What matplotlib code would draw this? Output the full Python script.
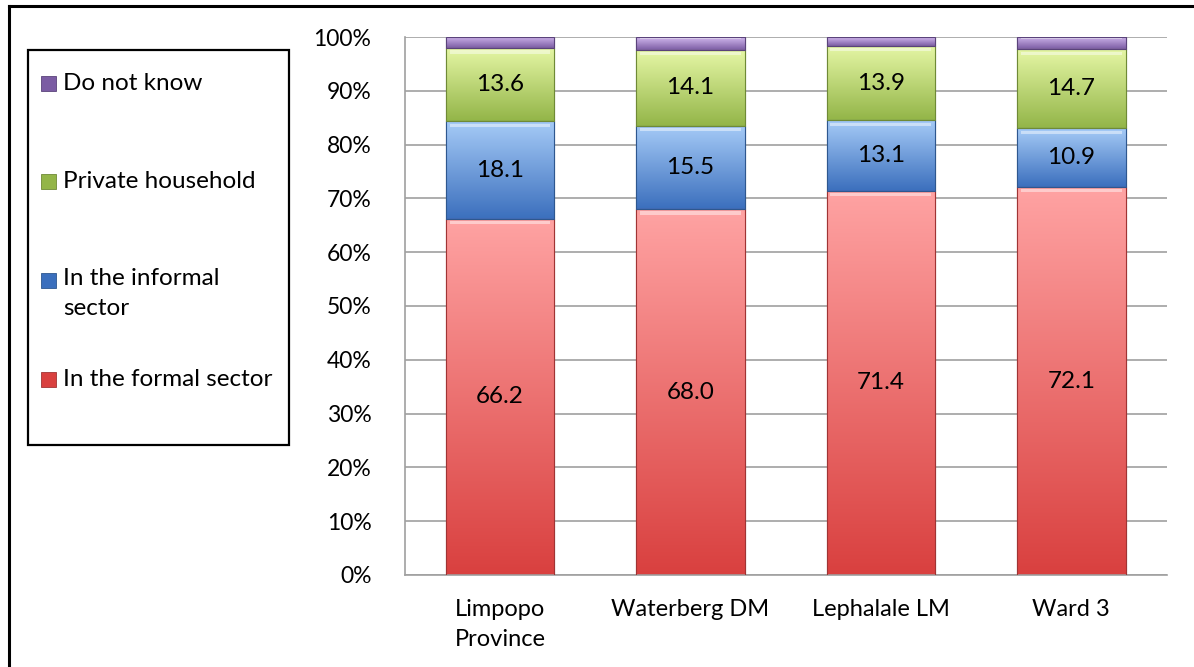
import numpy as np
import matplotlib.pyplot as plt
from matplotlib.colors import LinearSegmentedColormap
from matplotlib.patches import Rectangle

plt.rcParams['font.family'] = ['Lato', 'DejaVu Sans']

areas = ["Limpopo\nProvince", "Waterberg DM", "Lephalale LM", "Ward 3"]
formal = [66.2, 68.0, 71.4, 72.1]
informal = [18.1, 15.5, 13.1, 10.9]
private = [13.6, 14.1, 13.9, 14.7]
dont_know = [2.1, 2.4, 1.6, 2.3]
series_names = ["In the formal sector", "In the informal\nsector",
                "Private household", "Do not know"]

# light top, dark bottom, outline
shades = [
    ("#ffa3a3", "#d9403f", "#a03434"),
    ("#a6cbf7", "#3b6fbd", "#2e578f"),
    ("#e6f7a6", "#93b548", "#6f8a36"),
    ("#d2b8ee", "#7b5ca3", "#5a437a"),
]

fig = plt.figure(figsize=(11.94, 6.67), dpi=100)
ax = fig.add_axes([0.339, 0.138, 0.638, 0.8065])

x = np.arange(len(areas))
width = 0.57
bottom = np.zeros(len(areas))
grad = np.linspace(0, 1, 256).reshape(-1, 1)

for vals, (light, dark, edge) in zip([formal, informal, private, dont_know], shades):
    cmap = LinearSegmentedColormap.from_list("seg", [dark, light])
    bars = ax.bar(x, vals, width, bottom=bottom, color=dark,
                  edgecolor=edge, linewidth=0.8, zorder=2)
    for bar, v, b in zip(bars, vals, bottom):
        x0 = bar.get_x()
        im = ax.imshow(grad, cmap=cmap, aspect="auto", origin="lower",
                       extent=[x0, x0 + width, b, b + v], zorder=2.5)
        im.set_clip_path(bar)
        # thin highlight along the top of each segment
        ax.add_patch(Rectangle((x0 + 0.02, b + v - min(1.0, v * 0.12)),
                               width - 0.04, min(0.6, v * 0.08),
                               facecolor="white", alpha=0.45, lw=0, zorder=2.6))
        ax.add_patch(Rectangle((x0, b), width, v, fill=False,
                               edgecolor=edge, lw=0.8, zorder=2.7))
        if v > 5:
            ax.text(x0 + width / 2, b + v / 2, f"{v:.1f}",
                    ha="center", va="center", fontsize=17.5, color="black",
                    zorder=3)
    bottom = bottom + np.array(vals)

ax.set_xlim(-0.5, len(areas) - 0.5)
ax.set_ylim(0, 100)
ax.set_yticks(np.arange(0, 101, 10))
ax.set_yticklabels([f"{t}%" for t in range(0, 101, 10)], fontsize=16.5)
ax.set_xticks(x)
ax.set_xticklabels(areas, fontsize=17, linespacing=1.55)
ax.tick_params(axis="y", length=0, pad=24)
ax.tick_params(axis="x", length=0, pad=17)
ax.grid(axis="y", color="#a0a0a0", linewidth=1.2, zorder=0)
ax.set_axisbelow(True)
for side in ["top", "right"]:
    ax.spines[side].set_visible(False)
for side in ["left", "bottom"]:
    ax.spines[side].set_color("#a0a0a0")
    ax.spines[side].set_linewidth(1.2)

# outer frame (left and top edges)
fig.add_artist(plt.Line2D([9 / 1194, 9 / 1194], [0, 1 - 6 / 667],
                          color="black", lw=2.2, transform=fig.transFigure))
fig.add_artist(plt.Line2D([9 / 1194, 1], [1 - 6 / 667, 1 - 6 / 667],
                          color="black", lw=2.2, transform=fig.transFigure))

# legend box
W, H = 1194, 667
fig.add_artist(Rectangle((28 / W, 1 - 445 / H), (289 - 28) / W, (445 - 50) / H,
                         fill=False, edgecolor="black", lw=1.6,
                         transform=fig.transFigure))
legend_rows = [(3, 84), (2, 182), (1, 281), (0, 380)]
for idx, ypix in legend_rows:
    light, dark, edge = shades[idx]
    fig.add_artist(Rectangle((41 / W, 1 - (ypix + 7) / H), 15 / W, 15 / H,
                             facecolor=dark, edgecolor=edge, lw=0.6,
                             transform=fig.transFigure))
    if "\n" in series_names[idx]:
        fig.text(63 / W, 1 - (ypix - 13) / H, series_names[idx], fontsize=17.5,
                 va="top", linespacing=1.5)
    else:
        fig.text(63 / W, 1 - ypix / H, series_names[idx], fontsize=17.5,
                 va="center")

fig.savefig("out.png", dpi=100)
